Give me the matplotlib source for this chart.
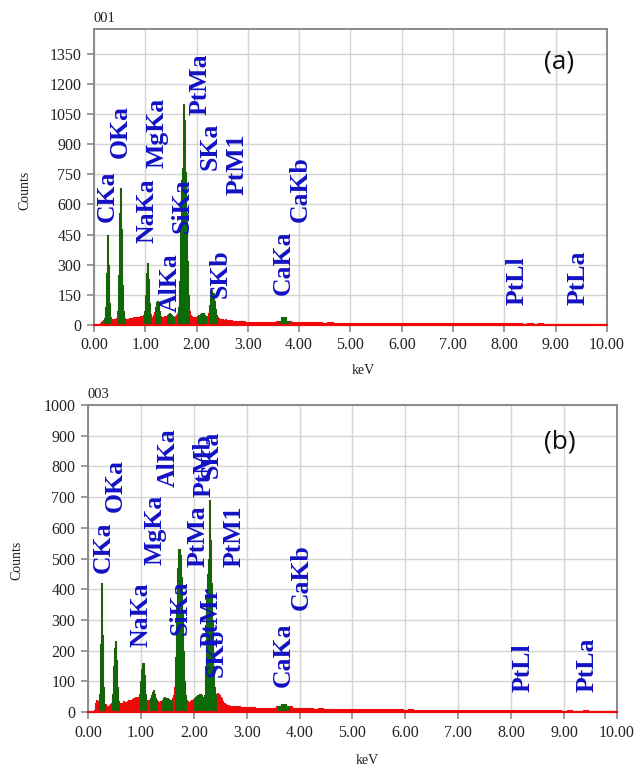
import numpy as np
import matplotlib
matplotlib.use("Agg")
import matplotlib.pyplot as plt
from matplotlib.ticker import FormatStrFormatter

# ---- spectrum (a): counts every 0.02 keV from 0.10 to 3.08 keV ----
counts_a_low = [
    0, 8, 15, 20, 25, 35, 90, 260, 450, 300,
    110, 40, 28, 28, 30, 28, 32, 35, 70, 250,
    560, 680, 480, 200, 70, 35, 28, 30, 32, 30,
    35, 33, 36, 35, 38, 36, 40, 38, 42, 40,
    44, 42, 46, 50, 70, 150, 260, 310, 230, 110,
    55, 40, 42, 48, 65, 90, 115, 120, 100, 70,
    45, 40, 42, 40, 44, 42, 45, 50, 55, 58,
    55, 48, 45, 42, 45, 50, 60, 90, 220, 480,
    720, 780, 1100, 1020, 760, 560, 320, 150, 70, 50,
    45, 42, 40, 38, 40, 42, 45, 48, 52, 55,
    60, 62, 58, 50, 45, 42, 45, 60, 100, 150,
    175, 160, 120, 80, 50, 38, 35, 32, 30, 28,
    30, 27, 26, 28, 25, 24, 26, 23, 22, 24,
    22, 21, 22, 20, 21, 20, 19, 20, 18, 19,
    18, 17, 18, 17, 16, 17, 16, 17, 15, 16,
]
# counts every 0.1 keV from 3.1 to 10.0 keV
counts_a_high = [
    16, 15, 15, 14, 15, 22, 38, 18, 14, 14,
    14, 13, 14, 13, 12, 13, 12, 12, 12, 11,
    12, 11, 12, 11, 11, 10, 11, 10, 10, 10,
    10, 10, 9, 10, 9, 10, 9, 9, 9, 9,
    9, 9, 8, 9, 8, 9, 8, 8, 8, 8,
    8, 8, 8, 7, 8, 7, 8, 7, 7, 7,
    7, 7, 7, 6, 7, 6, 7, 6, 6, 5,
]

# ---- spectrum (b) ----
counts_b_low = [
    0, 5, 30, 40, 35, 25, 60, 220, 420, 250,
    80, 25, 25, 18, 20, 22, 25, 30, 60, 150,
    210, 230, 170, 80, 35, 25, 28, 25, 30, 35,
    32, 30, 35, 38, 35, 40, 38, 42, 45, 40,
    48, 45, 50, 45, 60, 100, 140, 160, 120, 60,
    40, 35, 38, 40, 45, 55, 65, 72, 60, 45,
    38, 35, 32, 30, 35, 40, 45, 48, 45, 42,
    45, 42, 40, 38, 40, 45, 55, 80, 180, 350,
    470, 530, 510, 440, 330, 200, 100, 55, 40, 35,
    32, 30, 35, 38, 40, 42, 45, 50, 52, 55,
    58, 60, 55, 50, 48, 55, 150, 380, 450, 500,
    690, 560, 420, 300, 150, 80, 60, 62, 58, 55,
    50, 45, 35, 30, 28, 25, 24, 22, 23, 21,
    20, 21, 19, 20, 18, 19, 18, 17, 18, 17,
    16, 17, 16, 15, 16, 15, 16, 15, 14, 15,
]
counts_b_high = [
    15, 14, 14, 13, 14, 18, 25, 20, 13, 12,
    12, 12, 11, 12, 11, 11, 10, 11, 10, 10,
    10, 11, 10, 9, 10, 9, 9, 9, 9, 8,
    9, 8, 8, 8, 8, 7, 8, 7, 7, 7,
    7, 7, 6, 7, 6, 6, 6, 6, 6, 6,
    6, 5, 6, 5, 5, 5, 5, 5, 5, 4,
    5, 4, 4, 5, 4, 4, 4, 3, 3, 3,
]

kev_low = np.round(0.10 + 0.02 * np.arange(len(counts_a_low)), 2)
kev_high = np.round(3.1 + 0.1 * np.arange(len(counts_a_high)), 2)

# peak windows (keV) shown in green
win_a_lo = [0.20, 0.46, 0.98, 1.18, 1.42, 1.64, 2.00, 2.24, 3.60]
win_a_hi = [0.32, 0.58, 1.10, 1.30, 1.56, 1.86, 2.18, 2.40, 3.80]
win_b_lo = [0.20, 0.46, 0.98, 1.18, 1.40, 1.64, 2.00, 2.20, 3.60]
win_b_hi = [0.32, 0.58, 1.10, 1.30, 1.58, 1.86, 2.18, 2.42, 3.80]

# element labels: name, keV, count level of label start
lab_a = ["CKa", "OKa", "NaKa", "MgKa", "AlKa", "SiKa", "PtMa", "SKa",
         "PtM1", "SKb", "CaKa", "CaKb", "PtLl", "PtLa"]
lab_a_x = [0.25, 0.51, 1.03, 1.23, 1.48, 1.71, 2.07, 2.26,
           2.79, 2.46, 3.69, 4.02, 8.25, 9.43]
lab_a_y = [513, 832, 408, 782, 65, 458, 1046, 772,
           647, 134, 149, 513, 100, 100]

lab_b = ["CKa", "OKa", "NaKa", "MgKa", "AlKa", "SiKa", "PtMa", "PtMb", "SKa",
         "PtM1", "PtMr", "SKb", "CaKa", "CaKb", "PtLl", "PtLa"]
lab_b_x = [0.28, 0.51, 1.00, 1.27, 1.51, 1.74, 2.08, 2.19, 2.32,
           2.76, 2.33, 2.42, 3.69, 4.04, 8.22, 9.43]
lab_b_y = [453, 651, 212, 479, 733, 251, 472, 700, 762,
           472, 212, 114, 81, 332, 65, 65]

RED = "#ee0a0a"
GREEN = "#0b6b0b"
BLUE = "#1212c4"
SERIF = "Liberation Serif"

fig = plt.figure(figsize=(6.38, 7.69), dpi=100)


def draw_panel(rect, low, high, wlo, whi, names, lx, ly, ymax, yticks,
               tag, tag_xy, sample):
    ax = fig.add_axes(rect)
    e = np.concatenate([kev_low, kev_high])
    c = np.concatenate([low, high]).astype(float)
    ax.fill_between(e, c, step="mid", color=RED, lw=0, zorder=2)
    ax.step(e, c, where="mid", color=RED, lw=0.8, zorder=2)
    # red baseline drawn over the bottom spine, as in the instrument plot
    ax.plot([0, 10], [0, 0], color=RED, lw=1.6, zorder=4, clip_on=False)
    mask = np.zeros(len(e), dtype=bool)
    for a, b in zip(wlo, whi):
        mask |= (e >= a - 1e-9) & (e <= b + 1e-9)
    ax.fill_between(e, c, where=mask, step="mid", color=GREEN, lw=0.6,
                    edgecolor=GREEN, zorder=3)

    for n, x, y in zip(names, lx, ly):
        ax.text(x, y, n, rotation=90, ha="center", va="bottom",
                color=BLUE, fontsize=18.5, fontweight="bold",
                family=SERIF, zorder=5)

    ax.text(tag_xy[0], tag_xy[1], tag, ha="center", va="center",
            fontsize=19, family="Open Sans", color="#111111", zorder=5)

    ax.set_xlim(0, 10)
    ax.set_ylim(0, ymax)
    ax.set_xticks(np.arange(0, 11, 1))
    ax.set_yticks(yticks)
    ax.xaxis.set_major_formatter(FormatStrFormatter("%.2f"))
    ax.grid(True, color="#d4d4d4", lw=1.0, zorder=0)
    ax.set_axisbelow(True)
    for s in ax.spines.values():
        s.set_color("#8a8a8a")
        s.set_linewidth(1.4)
    ax.tick_params(direction="out", length=5, width=1.2, color="#8a8a8a",
                   labelsize=11.5, labelcolor="#222222", pad=4)
    for lab in ax.get_xticklabels() + ax.get_yticklabels():
        lab.set_family(SERIF)
    ax.text(0.0, 1.012, sample, transform=ax.transAxes, ha="left",
            va="bottom", fontsize=10.5, family=SERIF, color="#222222")
    return ax


draw_panel([0.1473, 0.5774, 0.8041, 0.3849], counts_a_low, counts_a_high,
           win_a_lo, win_a_hi, lab_a, lab_a_x, lab_a_y, 1474,
           np.arange(0, 1351, 150), "(a)", (9.06, 1310), "001")
draw_panel([0.1379, 0.0741, 0.8292, 0.3992], counts_b_low, counts_b_high,
           win_b_lo, win_b_hi, lab_b, lab_b_x, lab_b_y, 1000,
           np.arange(0, 1001, 100), "(b)", (8.92, 879), "003")

fig.text(25 / 638, 1 - 190 / 769, "Counts", rotation=90, ha="center",
         va="center", fontsize=10, family=SERIF, color="#222222")
fig.text(17 / 638, 1 - 560 / 769, "Counts", rotation=90, ha="center",
         va="center", fontsize=10, family=SERIF, color="#222222")
fig.text(363 / 638, 1 - 370 / 769, "keV", ha="center", va="center",
         fontsize=10, family=SERIF, color="#222222")
fig.text(367 / 638, 1 - 760 / 769, "keV", ha="center", va="center",
         fontsize=10, family=SERIF, color="#222222")

fig.savefig("out.png", dpi=100, facecolor="white")
